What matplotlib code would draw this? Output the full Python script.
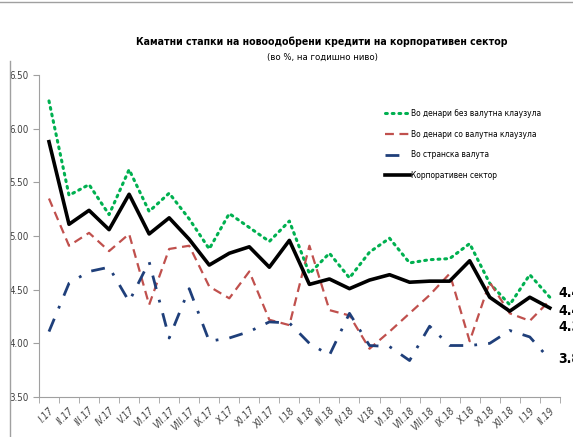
import matplotlib
matplotlib.use('Agg')
from matplotlib import pyplot as plt
from matplotlib.ticker import MultipleLocator, FixedLocator

plt.rcParams['font.family'] = ['DejaVu Sans']
plt.rcParams['font.stretch'] = 'condensed'

months = ['I.17', 'II.17', 'III.17', 'IV.17', 'V.17', 'VI.17', 'VII.17', 'VIII.17',
          'IX.17', 'X.17', 'XI.17', 'XII.17', 'I.18', 'II.18', 'III.18', 'IV.18',
          'V.18', 'VI.18', 'VII.18', 'VIII.18', 'IX.18', 'X.18', 'XI.18', 'XII.18',
          'I.19', 'II.19']

no_clause = [6.26, 5.38, 5.48, 5.20, 5.62, 5.23, 5.40, 5.16, 4.88, 5.21, 5.08, 4.95,
             5.14, 4.65, 4.84, 4.61, 4.85, 4.98, 4.75, 4.78, 4.79, 4.93, 4.56, 4.36,
             4.64, 4.43]
with_clause = [5.35, 4.91, 5.03, 4.86, 5.02, 4.36, 4.88, 4.91, 4.53, 4.42, 4.67, 4.22,
               4.17, 4.91, 4.31, 4.26, 3.95, 4.11, 4.28, 4.45, 4.65, 4.02, 4.57, 4.28,
               4.21, 4.40]
foreign = [4.11, 4.56, 4.67, 4.71, 4.39, 4.76, 4.05, 4.51, 4.02, 4.05, 4.11, 4.20,
           4.19, 4.00, 3.89, 4.28, 3.98, 3.97, 3.84, 4.16, 3.98, 3.98, 4.00, 4.12,
           4.06, 3.85]
corporate = [5.88, 5.11, 5.24, 5.06, 5.39, 5.02, 5.17, 4.97, 4.73, 4.84, 4.90, 4.71,
             4.96, 4.55, 4.60, 4.51, 4.59, 4.64, 4.57, 4.58, 4.58, 4.77, 4.43, 4.30,
             4.43, 4.33]

names = ['Во денари без валутна клаузула', 'Во денари со валутна клаузула',
         'Во странска валута', 'Корпоративен сектор']

fig = plt.figure(figsize=(5.73, 4.37), dpi=100)
ax = fig.add_axes([0.068, 0.0915, 0.909, 0.7365])

x = list(range(len(months)))
ax.plot(x, no_clause, color='#00b050', lw=2.2, linestyle=(0, (0.6, 1.6)),
        dash_capstyle='round', label=names[0])
ax.plot(x, with_clause, color='#c0504d', lw=1.6, linestyle=(0, (4, 2.5)), label=names[1])
ax.plot(x, foreign, color='#1f3f7a', lw=2.0, linestyle=(0, (5, 4, 1, 4)), label=names[2])
ax.plot(x, corporate, color='black', lw=2.6, label=names[3])

# end-of-series labels (run off the right edge like the original)
ends = [(no_clause, 3), (with_clause, -7.5), (corporate, -14), (foreign, 0)]
for series, dy in ends:
    ax.annotate('%.2f' % series[-1], xy=(x[-1], series[-1]), xytext=(6, dy),
                textcoords='offset points', fontsize=10, fontweight='bold',
                va='center', ha='left', annotation_clip=False)

ax.set_xlim(-0.5, len(months) - 0.5)
ax.set_ylim(3.5, 6.5)
ax.yaxis.set_major_locator(MultipleLocator(0.5))
ax.set_yticklabels(['%.2f' % v for v in ax.get_yticks()])
ax.set_xticks(x)
ax.set_xticklabels(months, rotation=45, ha='right', rotation_mode='anchor',
                   fontsize=7, style='italic', color='#404040')
ax.xaxis.set_minor_locator(FixedLocator([i - 0.5 for i in range(len(months) + 1)]))
ax.tick_params(axis='x', which='major', length=0, pad=6)
ax.tick_params(axis='x', which='minor', length=4, color='#a0a0a0')
ax.tick_params(axis='y', length=4, color='#a0a0a0', labelsize=7, labelcolor='#404040')
for s in ['top', 'right']:
    ax.spines[s].set_visible(False)
for s in ['left', 'bottom']:
    ax.spines[s].set_color('#a0a0a0')

leg = ax.legend(loc='upper left', bbox_to_anchor=(0.658, 0.905), frameon=False,
                fontsize=6.0, handlelength=3.0, handletextpad=0.15, labelspacing=1.4,
                borderaxespad=0)

fig.text(0.562, 0.905, 'Каматни стапки на новоодобрени кредити на корпоративен сектор',
         ha='center', va='center', fontsize=7.6, fontweight='bold')
fig.text(0.562, 0.868, '(во %, на годишно ниво)', ha='center', va='center', fontsize=6.8)

# thin frame lines of the original screenshot
fig.add_artist(plt.Line2D([0, 1], [0.995, 0.995], color='#a0a0a0', lw=1))
fig.add_artist(plt.Line2D([0.017, 0.017], [0, 0.86], color='#a0a0a0', lw=1))

fig.savefig('out.png', dpi=100)
